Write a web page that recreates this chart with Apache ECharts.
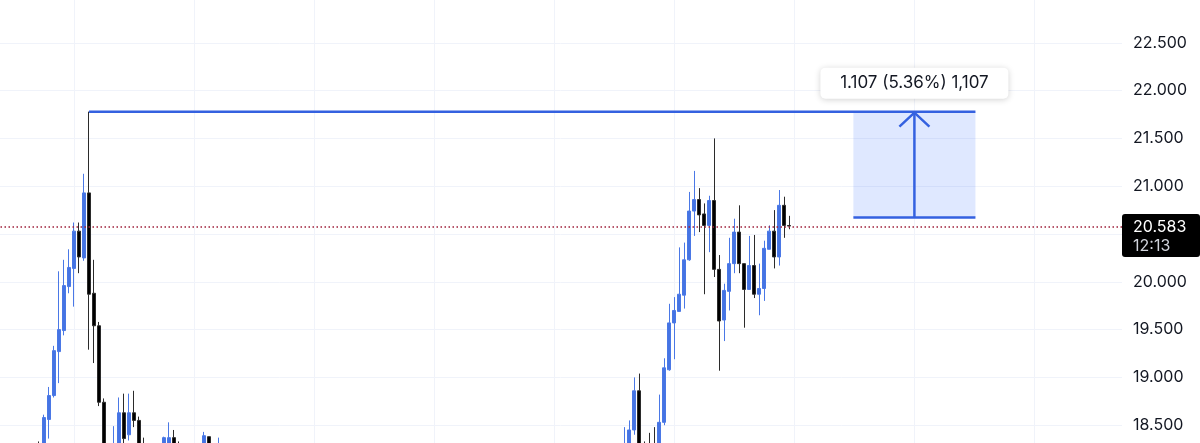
<!DOCTYPE html>
<html>
<head>
<meta charset="utf-8">
<style>
  html, body { margin: 0; padding: 0; background: #fff; }
  #chart { width: 1200px; height: 443px; }
</style>
<script src="https://cdn.jsdelivr.net/npm/echarts@6/dist/echarts.min.js"></script>
</head>
<body>
<div id="chart"></div>
<script>
// bar slots on the time axis (one every 5px)
const barCount = 225;

// left rally, bars 8..44  (null = below the visible range)
const leftStart = 8;
const leftOpen  = [18.25, 18.20, 18.56, 18.81, 19.27, 19.49, 19.95, 20.14, 20.53, 20.25, 20.93, 19.88, 19.54, 18.74, null, 18.10, 18.26, 18.63, 18.40, 18.63, 18.55, 18.25, null, null, null, 18.20, 18.25, 18.37, 18.28, null, null, null, null, 18.22, 18.38, null, 18.20];
const leftClose = [18.15, 18.58, 18.81, 19.28, 19.50, 19.96, 20.15, 20.53, 20.26, 20.93, 19.87, 19.54, 18.74, 18.20, null, 18.26, 18.63, 18.36, 18.63, 18.55, 18.20, 18.20, null, null, null, 18.37, 18.37, 18.24, 18.22, null, null, null, null, 18.39, 18.22, null, 18.26];
const leftLow   = [18.05, 18.12, 18.36, 18.79, 18.94, 19.44, 19.88, 19.74, 20.09, 20.22, 19.29, 19.15, 18.70, 18.10, null, 18.02, 18.18, 18.25, 18.34, 18.48, 18.10, 18.12, null, null, null, 18.12, 18.18, 18.15, 18.15, null, null, null, null, 18.15, 18.14, null, 18.12];
const leftHigh  = [18.33, 18.61, 18.90, 19.33, 20.11, 20.23, 20.34, 20.62, 20.62, 21.13, 21.78, 20.23, 19.58, 18.78, null, 18.49, 18.79, 18.83, 18.83, 18.86, 18.59, 18.37, null, null, null, 18.38, 18.53, 18.45, 18.33, null, null, null, null, 18.43, 18.38, null, 18.37];

// right rally, bars 125..158
const rightStart = 125;
const rightOpen  = [18.15, 18.25, 18.45, 18.86, 18.28, 18.25, 18.28, 18.15, 18.53, 19.08, 19.57, 19.69, 19.86, 20.23, 20.74, 20.86, 20.71, 20.59, 20.85, 20.13, 19.60, 19.90, 20.19, 20.52, 20.19, 19.92, 20.17, 19.87, 19.93, 20.34, 20.53, 20.26, 20.80, 20.589];
const rightClose = [18.30, 18.45, 18.86, 18.20, 18.20, 18.18, 18.15, 18.53, 19.10, 19.57, 19.70, 19.87, 20.23, 20.74, 20.86, 20.70, 20.59, 20.85, 20.13, 19.59, 19.91, 20.19, 20.52, 20.19, 19.92, 20.17, 19.87, 19.93, 20.35, 20.53, 20.26, 20.80, 20.59, 20.583];
const rightLow   = [18.05, 18.20, 18.40, 18.10, 18.10, 18.08, 18.05, 18.10, 18.50, 19.07, 19.19, 19.69, 19.72, 20.22, 20.48, 20.52, 19.87, 20.31, 20.05, 19.07, 19.38, 19.70, 20.09, 20.09, 19.52, 19.92, 19.83, 19.65, 19.80, 20.34, 20.14, 20.17, 20.46, 20.55];
const rightHigh  = [18.48, 18.55, 19.00, 19.04, 18.33, 18.42, 18.48, 18.82, 19.20, 19.77, 19.84, 20.36, 20.41, 20.94, 21.16, 20.98, 20.82, 20.90, 21.50, 20.28, 19.98, 20.46, 20.66, 20.80, 20.19, 20.48, 20.49, 20.19, 20.43, 20.59, 20.75, 20.96, 20.89, 20.69];

const priceTicks = { min: 18, max: 23, step: 0.5 };
const lastPrice = 20.583;
const lastTime = '12:13';

// measure tool: from the high of bar 18 to a box spanning bars 170.8..195.2
const measureFromBar = 18;
const measureHigh = 21.78;
const measureLow = 20.673;
const measureBoxFrom = 170.8;
const measureBoxTo = 195.2;
const measureText = '1.107 (5.36%) 1,107';

const categories = [];
const candles = [];
for (let i = 0; i < barCount; i++) {
  categories.push(String(i));
  candles.push('-');
}
function putBars(start, o, c, l, h) {
  for (let j = 0; j < o.length; j++) {
    if (o[j] == null) continue;
    candles[start + j] = [o[j], c[j], l[j], h[j]];
  }
}
putBars(leftStart, leftOpen, leftClose, leftLow, leftHigh);
putBars(rightStart, rightOpen, rightClose, rightLow, rightHigh);

const blue = '#3461e0';
const gridColor = '#f0f3fa';
const font = 'Inter';

function barX(api, k) {
  const i = Math.floor(k);
  return api.coord([i, measureHigh])[0] + (k - i) * api.size([1, 0])[0];
}

const chart = echarts.init(document.getElementById('chart'));
chart.setOption({
  animation: false,
  backgroundColor: '#fff',
  grid: { left: -3.5, right: 78, top: -5, bottom: -30, outerBoundsMode: 'none', containLabel: false },
  xAxis: {
    type: 'category',
    data: categories,
    boundaryGap: true,
    axisLine: { show: false },
    axisTick: { show: false },
    axisLabel: { show: false },
    splitLine: {
      show: true,
      alignWithLabel: true,
      interval: function (i) { return (i - 15) % 24 === 0; },
      lineStyle: { color: gridColor, width: 1 }
    }
  },
  yAxis: {
    type: 'value',
    position: 'right',
    min: priceTicks.min,
    max: priceTicks.max,
    interval: priceTicks.step,
    axisLine: { show: false },
    axisTick: { show: false },
    axisLabel: {
      margin: 11,
      color: '#131722',
      fontSize: 16,
      fontFamily: font,
      showMaxLabel: true,
      hideOverlap: false,
      formatter: function (v) { return v.toFixed(3); }
    },
    splitLine: { lineStyle: { color: gridColor, width: 1 } }
  },
  series: [
    {
      type: 'candlestick',
      data: candles,
      barWidth: 3.6,
      itemStyle: {
        color: '#4574e3',
        color0: '#000000',
        borderColor: '#4a78e6',
        borderColor0: '#2b2b2b',
        borderWidth: 1
      },
      markLine: {
        silent: true,
        symbol: ['none', 'none'],
        label: { show: false },
        lineStyle: { color: '#9e1f3a', type: [1.5, 2.5], width: 1.5 },
        data: [{ yAxis: lastPrice }]
      }
    },
    {
      type: 'custom',
      z: 5,
      silent: true,
      data: [[measureFromBar, measureHigh]],
      renderItem: function (params, api) {
        const x0 = barX(api, measureFromBar);
        const x1 = barX(api, measureBoxFrom);
        const x2 = barX(api, measureBoxTo);
        const xm = (x1 + x2) / 2;
        const yTop = api.coord([0, measureHigh])[1];
        const yBot = api.coord([0, measureLow])[1];
        const line = { stroke: blue, lineWidth: 2.5 };
        return {
          type: 'group',
          children: [
            { type: 'rect', shape: { x: x1, y: yTop, width: x2 - x1, height: yBot - yTop }, style: { fill: 'rgba(41,98,255,0.15)' } },
            { type: 'line', shape: { x1: x0, y1: yTop, x2: x2, y2: yTop }, style: line },
            { type: 'line', shape: { x1: x1, y1: yBot, x2: x2, y2: yBot }, style: line },
            { type: 'line', shape: { x1: xm, y1: yBot, x2: xm, y2: yTop + 1 }, style: line },
            { type: 'polyline', shape: { points: [[xm - 15, yTop + 15], [xm, yTop + 1], [xm + 15, yTop + 15]] }, style: { stroke: blue, lineWidth: 2.5, fill: null } },
            { type: 'rect', shape: { x: xm - 94, y: yTop - 44, width: 188, height: 31, r: 5 },
              style: { fill: '#fff', shadowBlur: 6, shadowColor: 'rgba(0,0,0,0.18)', shadowOffsetY: 1 } },
            { type: 'text', style: { text: measureText, x: xm, y: yTop - 28.5, align: 'center', verticalAlign: 'middle',
              font: '17px ' + font, fill: '#131722' } }
          ]
        };
      }
    }
  ]
});

// last price tag on the price scale
const yLast = chart.convertToPixel({ yAxisIndex: 0 }, lastPrice);
chart.setOption({
  graphic: [
    { type: 'rect', shape: { x: 1122, y: yLast - 12, width: 78, height: 43, r: 3 }, style: { fill: '#000' }, z: 100 },
    { type: 'text', style: { text: lastPrice.toFixed(3), x: 1133, y: yLast + 1, verticalAlign: 'middle', font: '16px ' + font, fill: '#fff' }, z: 101 },
    { type: 'text', style: { text: lastTime, x: 1133, y: yLast + 20, verticalAlign: 'middle', font: '16px ' + font, fill: '#d1d4dc' }, z: 101 }
  ]
});
</script>
</body>
</html>
